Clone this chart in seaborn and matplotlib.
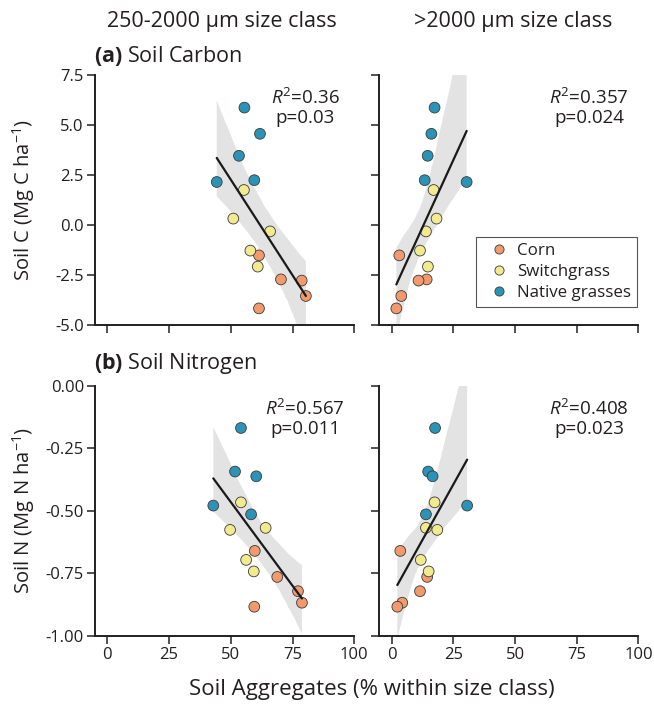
import numpy as np
import pandas as pd
import matplotlib
matplotlib.use("Agg")
import matplotlib.pyplot as plt
import seaborn as sns

# ---------------- data ----------------
groups = ["Corn"] * 5 + ["Switchgrass"] * 5 + ["Native grasses"] * 5
group_order = ["Corn", "Switchgrass", "Native grasses"]
group_colors = ["#f29a6e", "#f2ea8f", "#2b93b5"]

# Soil C change (Mg C ha-1)
soil_c = [-1.52, -2.72, -2.78, -3.55, -4.17,
          1.75, 0.32, -0.32, -1.28, -2.08,
          5.87, 4.56, 3.46, 2.15, 2.24]
# Aggregates (%) 250-2000 um, carbon panel
agg_small_c = [61.4, 70.3, 78.7, 80.4, 61.4,
               55.3, 51.0, 65.9, 57.9, 60.9,
               55.5, 61.8, 53.3, 44.3, 59.5]
# Aggregates (%) >2000 um, carbon panel
agg_large_c = [3.1, 14.2, 10.9, 3.9, 1.9,
               17.0, 18.2, 13.9, 11.5, 14.7,
               17.4, 16.1, 14.6, 30.4, 13.4]

# Soil N change (Mg N ha-1)
soil_n = [-0.660, -0.764, -0.821, -0.867, -0.883,
          -0.466, -0.568, -0.576, -0.696, -0.742,
          -0.169, -0.343, -0.362, -0.479, -0.514]
agg_small_n = [59.7, 68.8, 77.2, 78.8, 59.5,
               54.1, 64.1, 49.7, 56.2, 59.3,
               54.1, 51.7, 60.3, 42.9, 58.2]
agg_large_n = [3.5, 14.4, 11.5, 4.3, 2.3,
               17.4, 13.9, 18.5, 11.8, 15.0,
               17.6, 14.8, 16.6, 30.6, 13.9]

col_titles = ["250-2000 µm size class", ">2000 µm size class"]
row_titles = [r"$\mathbf{(a)}$ Soil Carbon", r"$\mathbf{(b)}$ Soil Nitrogen"]
stats_text = [["$R^2$=0.36\np=0.03", "$R^2$=0.357\np=0.024"],
              ["$R^2$=0.567\np=0.011", "$R^2$=0.408\np=0.023"]]
x_ticks = [0, 25, 50, 75, 100]
c_ticks = [-5.0, -2.5, 0.0, 2.5, 5.0, 7.5]
n_ticks = [-1.00, -0.75, -0.50, -0.25, 0.00]

# ---------------- style ----------------
sns.set_style("ticks")
FONT = "Open Sans"
plt.rcParams["font.family"] = [FONT, "DejaVu Sans"]
plt.rcParams["mathtext.fontset"] = "custom"
plt.rcParams["mathtext.rm"] = FONT
plt.rcParams["mathtext.it"] = FONT + ":italic"
plt.rcParams["mathtext.bf"] = FONT + ":bold"
plt.rcParams["axes.unicode_minus"] = False
plt.rcParams["text.color"] = "#231f20"

W, H = 654, 704
fig = plt.figure(figsize=(W / 100, H / 100), dpi=100)

def px_axes(left, top, right, bottom):
    return fig.add_axes([left / W, 1 - bottom / H, (right - left) / W, (bottom - top) / H])

ax_tl = px_axes(95, 75, 354.3, 325)
ax_tr = px_axes(379.3, 75, 638.4, 325)
ax_bl = px_axes(95, 385.7, 354.3, 636)
ax_br = px_axes(379.3, 385.7, 638.4, 636)

panels = [
    (ax_tl, agg_small_c, soil_c, 0, 0),
    (ax_tr, agg_large_c, soil_c, 0, 1),
    (ax_bl, agg_small_n, soil_n, 1, 0),
    (ax_br, agg_large_n, soil_n, 1, 1),
]

palette = dict(zip(group_order, group_colors))

for ax, xs, ys, r, c in panels:
    df = pd.DataFrame({"x": xs, "y": ys, "group": groups})
    sns.regplot(data=df, x="x", y="y", ax=ax, scatter=False, ci=95, n_boot=2000,
                seed=3, color="black", truncate=True,
                line_kws={"lw": 1.6, "zorder": 4, "color": "#1a1a1a"})
    for coll in ax.collections:
        coll.set_facecolor("#e3e3e3")
        coll.set_alpha(1)
        coll.set_edgecolor("none")
        coll.set_zorder(1)
    sns.scatterplot(data=df, x="x", y="y", hue="group", hue_order=group_order,
                    palette=palette, s=60, edgecolor="#3a3a3a", linewidth=0.6,
                    ax=ax, zorder=3, legend=(r == 0 and c == 1))

    ax.set_xlim(-5, 100)
    ax.set_xticks(x_ticks)
    if r == 0:
        ax.set_ylim(-5, 7.5)
        ax.set_yticks(c_ticks)
        ax.set_yticklabels([f"{v:.1f}" for v in c_ticks])
    else:
        ax.set_ylim(-1, 0)
        ax.set_yticks(n_ticks)
        ax.set_yticklabels([f"{v:.2f}" for v in n_ticks])
    ax.set_xticklabels([str(v) for v in x_ticks])
    ax.set_xlabel("")
    ax.set_ylabel("")
    for s in ["top", "right"]:
        ax.spines[s].set_visible(False)
    for s in ["left", "bottom"]:
        ax.spines[s].set_linewidth(1.4)
        ax.spines[s].set_color("#231f20")
    ax.tick_params(axis="both", direction="out", length=6, width=1.1,
                   color="#231f20", labelsize=12, labelcolor="#231f20", pad=2)
    ax.tick_params(labelbottom=(r == 1), labelleft=(c == 0))
    ax.text(0.81, 0.87, stats_text[r][c], transform=ax.transAxes, ha="center",
            va="center", fontsize=13.5, linespacing=1.1)
    ax.set_facecolor("none")

leg = ax_tr.legend(loc="lower right", bbox_to_anchor=(0.995, 0.072), frameon=True,
                   fancybox=False, edgecolor="#555555", framealpha=1, fontsize=12.2,
                   handletextpad=0.1, borderpad=0.35, labelspacing=0.3,
                   borderaxespad=0, markerscale=0.85, title=None)
leg.get_frame().set_linewidth(0.8)

# column and row titles
fig.text(222 / W, 1 - 22 / H, col_titles[0], ha="center", va="center", fontsize=15.5)
fig.text(513 / W, 1 - 22 / H, col_titles[1], ha="center", va="center", fontsize=15.5)
fig.text(94 / W, 1 - 56 / H, row_titles[0], ha="left", va="center", fontsize=15.5)
fig.text(94 / W, 1 - 364 / H, row_titles[1], ha="left", va="center", fontsize=15.5)

fig.text(24 / W, 1 - 200 / H, "Soil C (Mg C ha$^{-1}$)", rotation=90,
         ha="center", va="center", fontsize=14.5)
fig.text(24 / W, 1 - 510 / H, "Soil N (Mg N ha$^{-1}$)", rotation=90,
         ha="center", va="center", fontsize=14.5)
fig.text(372 / W, 1 - 689 / H, "Soil Aggregates (% within size class)",
         ha="center", va="center", fontsize=16)

fig.savefig("out.png", dpi=100)
